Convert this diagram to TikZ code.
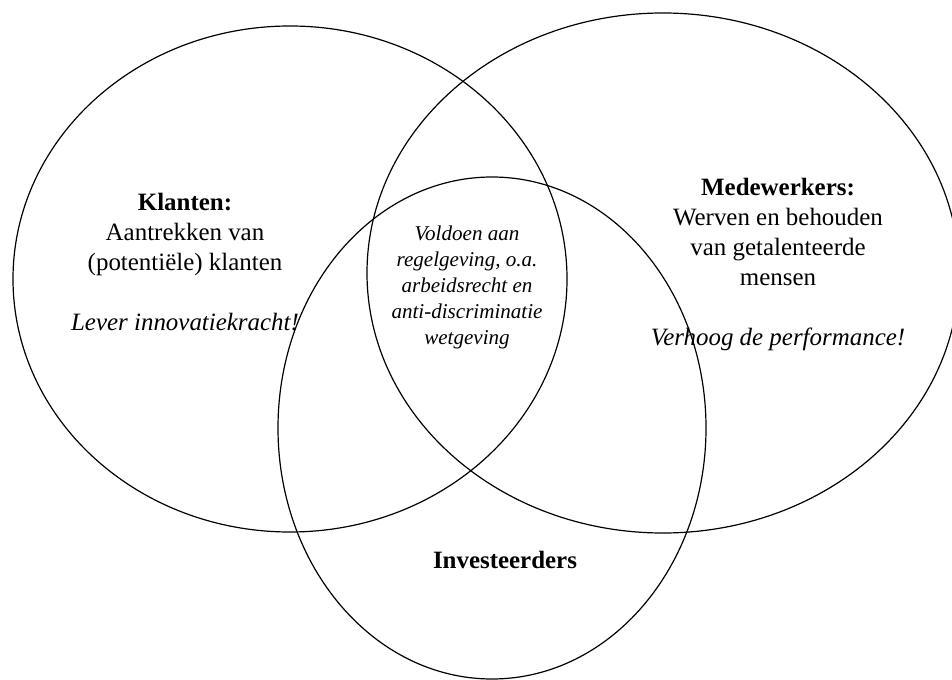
\documentclass[tikz,border=0pt]{standalone}
\usepackage{fontspec}
\setmainfont{Liberation Serif}
\begin{document}
\begin{tikzpicture}[x=0.75pt,y=-0.75pt,line width=0.9pt]

      \useasboundingbox (0,0) rectangle (952,680);
      \clip (0,0) rectangle (952,680);

      \begin{scope}
        \draw (290,279) ellipse [x radius=277, y radius=253];
        \draw (663,273) ellipse [x radius=296, y radius=260];
        \draw (492,428) ellipse [x radius=214, y radius=251];
      \end{scope}

      \begin{scope}[every node/.style={align=center, font=\fontsize{18.7}{22.5}\selectfont}]
        \node (klanten) at (185,262) {\textbf{Klanten:}\\Aantrekken van\\(potentiële) klanten\\[22.5pt]\textit{Lever innovatiekracht!}};
        \node (medewerkers) at (778,265) {\textbf{Medewerkers:}\\Werven en behouden\\van getalenteerde\\mensen\\[22.5pt]\textit{Verhoog de performance!}};
        \node (investeerders) at (505,560) {\textbf{Investeerders}};
      \end{scope}

      \begin{scope}[every node/.style={align=center, font=\fontsize{15.8}{19.5}\selectfont\itshape}]
        \node (regels) at (467,287) {Voldoen aan\\regelgeving, o.a.\\arbeidsrecht en\\anti-discriminatie\\wetgeving};
      \end{scope}

    \end{tikzpicture}
\end{document}
